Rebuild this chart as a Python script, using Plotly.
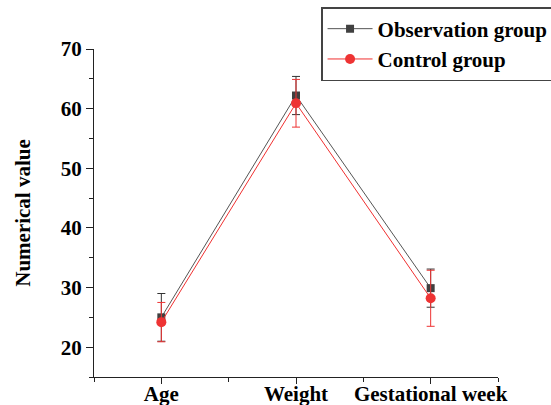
import plotly.graph_objects as go

categories = ["Age", "Weight", "Gestational week"]
obs_values = [25.0, 62.2, 29.9]
obs_err = [4.0, 3.2, 3.2]
ctrl_values = [24.2, 60.9, 28.2]
ctrl_err = [3.3, 4.0, 4.7]
y_ticks = [20, 30, 40, 50, 60, 70]

xpos = list(range(len(categories)))
FONT = "Liberation Serif"
FS = 21

fig = go.Figure()
fig.add_trace(go.Scatter(
    x=xpos, y=obs_values, name="Observation group", mode="lines+markers",
    line=dict(color="#555555", width=1),
    marker=dict(symbol="square", size=8, color="#404040"),
    error_y=dict(type="data", array=obs_err, visible=True, color="#333333", thickness=1, width=4),
))
fig.add_trace(go.Scatter(
    x=xpos, y=ctrl_values, name="Control group", mode="lines+markers",
    line=dict(color="#f03030", width=1),
    marker=dict(symbol="circle", size=10, color="#ee3333"),
    error_y=dict(type="data", array=ctrl_err, visible=True, color="#ee3333", thickness=1, width=4),
))

fig.update_layout(
    width=551, height=405,
    margin=dict(l=94, r=53, t=49, b=28, autoexpand=False),
    plot_bgcolor="white", paper_bgcolor="white",
    font=dict(family=FONT, size=FS, color="black"),
    showlegend=True,
    legend=dict(
        x=0.562, y=1.128, xanchor="left", yanchor="top",
        bordercolor="#444444", borderwidth=1.5, bgcolor="white",
        font=dict(family=FONT, size=FS, color="black", weight="bold"),
        itemwidth=45, tracegroupgap=0,
    ),
    xaxis=dict(
        range=[-0.5, 2.5], tickvals=xpos, ticktext=categories,
        showline=True, linecolor="#222222", linewidth=1, mirror=False,
        ticks="outside", ticklen=6, tickcolor="#222222",
        ticklabelstandoff=-8,
        minor=dict(ticks="outside", tickvals=[-0.5, 0.5, 1.5, 2.5], ticklen=4, tickcolor="#222222"),
        showgrid=False, zeroline=False,
        tickfont=dict(family=FONT, size=FS, color="black", weight="bold"),
    ),
    yaxis=dict(
        range=[15, 70], tickvals=y_ticks,
        showline=True, linecolor="#222222", linewidth=1, mirror=False,
        ticks="outside", ticklen=7, tickcolor="#222222",
        minor=dict(ticks="outside", dtick=5, tick0=15, ticklen=4, tickcolor="#222222"),
        showgrid=False, zeroline=False,
        tickfont=dict(family=FONT, size=FS, color="black", weight="bold"),
        title=dict(text="Numerical value", standoff=24,
                   font=dict(family=FONT, size=FS, color="black", weight="bold")),
    ),
)

fig.write_html("out.html", config={"displayModeBar": False},
               post_script="document.body.style.margin='0';document.body.style.overflow='hidden';")
